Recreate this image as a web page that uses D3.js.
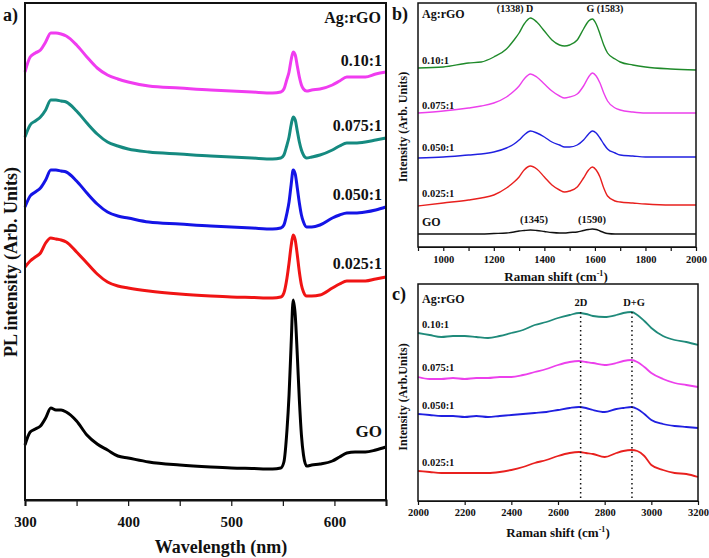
<!DOCTYPE html>
<html><head><meta charset="utf-8">
<script src="https://cdn.jsdelivr.net/npm/d3@7"></script>
<style>body{margin:0;background:#fff}svg{display:block}text{font-family:"Liberation Serif","Times New Roman",serif;font-weight:bold;fill:#111}</style>
</head><body><svg id="c" width="709" height="558"></svg>
<script>
// ---------- Panel a: PL spectra ----------
const wavelength = [300,305,310,315,320,325,330,335,340,350,360,370,380,390,400,420,450,480,500,520,540,548,551,554,556,558,560,562,564,566,568,570,573,578,586,598,605,612,620,630,640,650];
const pl_GO    = [55,68,71,74,82,92,90,90,88,79,65,56,50,44,42,38,35,33,32,31.5,31,32,38,70,105,155,200,185,145,100,65,45,34,35,36,39,43,47,48,48,50,53];
const pl_025   = [233,239,243,247,257,262,261,260,258,248,237,226,218,214,212,209,206,204,203,202.5,202,203,207,222,237,254,265,260,245,228,215,208,204,204,205,212,216,219,219,219,221,223];
const pl_050   = [293,304,308,312,320,330,330,329,328,319,307,296,288,284,282,278,276,274,273,272,271,272,275,287,298,315,330,326,312,297,285,278,273,273,275,282,285,287,287,288,290,293];
const pl_075   = [363,375,379,383,390,400,400,399,398,389,377,366,358,354,351,348,346,344,343,342,341,342,345,355,363,375,383,380,369,358,350,345,342,343,345,350,354,357,357,358,360,362];
const pl_010   = [428,443,447,450,458,467,467,466,464,455,443,432,425,421,418,414,412,410,409,408,407,408,411,421,428,440,448,445,434,423,415,411,409,410,411,415,419,423,423,423,426,428];
const plTicks  = [300,350,400,450,500,550,600,650];
const plTickLabels = [300,400,500,600];

// ---------- Panel b: Raman D/G ----------
const ramanB = [900,1000,1100,1150,1200,1250,1280,1300,1320,1345,1370,1400,1430,1460,1480,1500,1530,1555,1575,1590,1605,1620,1635,1650,1680,1700,1750,1800,1900,2000];
const rb_010 = [179,180,184,185,190,198,207,214,223,229,225,216,207,202,201,202,207,218,226,228,223,213,202,194,188,185,182,180,178,177];
const rb_075 = [134,136,139,141,144,150,156,161,168,173,170,163,156,151,149,150,153,161,170,174,171,164,154,146,139,137,135,134,134,134];
const rb_050 = [89,90,92,93,95,99,103,107,112,116,114,110,105,102,100,100,102,107,113,116,114,109,103,98,94,92,91,90,90,90];
const rb_025 = [41,44,47,49,52,59,65,70,77,81,78,70,62,57,55,56,60,69,77,80,77,70,59,51,46,45,44,43,42,42];
const rb_GO  = [13,13,13,13,13.5,14,15,16,16.5,17,16.5,15.5,14.5,14,14,14.5,15,16.5,17.5,18,17.5,16,14.5,13.5,13,13,13,13,13,13];
const bTicks = [900,1000,1100,1200,1300,1400,1500,1600,1700,1800,1900,2000];
const bTickLabels = [1000,1200,1400,1600,1800,2000];

// ---------- Panel c: Raman 2D / D+G ----------
const ramanC = [2000,2050,2100,2150,2200,2250,2300,2350,2400,2450,2500,2550,2600,2650,2690,2720,2750,2800,2850,2880,2915,2940,2970,3000,3050,3100,3150,3200];
const rc_010 = [168,166,164,165,165,164,163,165,168,171,176,179,183,186,188,187,185,184,186,188,189,186,180,173,165,161,159,156];
const rc_075 = [124,122,122,123,122,123,123,124,124,126,129,132,136,139,140,139,138,136,138,140,141,139,134,128,122,118,116,114];
const rc_050 = [87,86,85,85,84,85,84,85,86,87,88,89,91,93,94,93,91,89,92,93,94,92,87,81,77,75,74,73];
const rc_025 = [30,29,28,28,28,28,28,29,31,34,38,41,45,48,49,48,47,44,48,50,51,50,45,36,31,28,27,24];
const cTicks = [2000,2200,2400,2600,2800,3000,3200];
const peakLines = [2697,2917];

const svg = d3.select("#c");

function frame(g, x, y){
  const [x0,x1]=x.range(), [y1,y0]=y.range();
  g.append("rect").attr("x",x0).attr("y",y0).attr("width",x1-x0).attr("height",y1-y0)
    .attr("fill","none").attr("stroke","#111");
}
function drawLines(g, x, y, xs, series, width){
  const line = d3.line().x((d,i)=>x(xs[i])).y(d=>y(d)).curve(d3.curveMonotoneX);
  series.forEach(s=>{
    g.append("path").datum(s.v).attr("d",line).attr("fill","none")
      .attr("stroke",s.c).attr("stroke-width",width).attr("stroke-linejoin","round");
  });
}
function axisBottom(g, x, y0, ticks, labels, tickLen, fontSize, labelY){
  const ax = d3.axisBottom(x).tickValues(ticks).tickSize(tickLen).tickFormat(d=>labels.includes(d)?d:"");
  const ag = g.append("g").attr("transform",`translate(0,${y0})`).call(ax);
  ag.select(".domain").attr("stroke","#111");
  ag.selectAll(".tick line").attr("stroke","#111").attr("stroke-width",1.2);
  ag.selectAll(".tick text").attr("y",labelY).attr("dy",0).attr("font-size",fontSize)
    .attr("font-family","Liberation Serif").attr("font-weight","bold").attr("fill","#111");
}
function txt(g, x, y, s, size, anchor){
  return g.append("text").attr("x",x).attr("y",y).attr("font-size",size).attr("text-anchor",anchor||"start").text(s);
}

// Panel a
{
  const g = svg.append("g");
  const x = d3.scaleLinear().domain([300,650]).range([25,386]);
  const y = d3.scaleLinear().domain([0,497]).range([500,3]);
  drawLines(g,x,y,wavelength,[
    {v:pl_GO,c:"#000"},{v:pl_025,c:"#f01414"},{v:pl_050,c:"#1414e6"},
    {v:pl_075,c:"#158a80"},{v:pl_010,c:"#f03cf0"}],3);
  frame(g,x,y);
  g.select("rect").attr("stroke-width",2);
  axisBottom(g,x,500,plTicks,plTickLabels,6,15,27);
  g.select(".domain").attr("stroke-width",2);
  txt(g,3,21,"a)",18);
  txt(g,381,23,"Ag:rGO",16,"end");
  txt(g,382,66,"0.10:1",16,"end");
  txt(g,382,131,"0.075:1",16,"end");
  txt(g,382,200,"0.050:1",16,"end");
  txt(g,382,269,"0.025:1",16,"end");
  txt(g,382,437,"GO",17,"end");
  txt(g,221,553,"Wavelength (nm)",18,"middle");
  g.append("text").attr("transform","translate(17,262) rotate(-90)").attr("font-size",18)
    .attr("text-anchor","middle").text("PL intensity (Arb. Units)");
}

// Panel b
{
  const g = svg.append("g");
  const x = d3.scaleLinear().domain([900,2000]).range([418,696]);
  const y = d3.scaleLinear().domain([0,244]).range([247,3]);
  drawLines(g,x,y,ramanB,[
    {v:rb_GO,c:"#111"},{v:rb_025,c:"#e8201e"},{v:rb_050,c:"#2020e0"},
    {v:rb_075,c:"#ec40ec"},{v:rb_010,c:"#1f8a2a"}],1.4);
  frame(g,x,y);
  g.select("rect").attr("stroke-width",1.5);
  axisBottom(g,x,247,bTicks,bTickLabels,4,10.5,16);
  txt(g,392,20,"b)",18);
  txt(g,422,18,"Ag:rGO",12);
  txt(g,515,12,"(1338) D",10,"middle");
  txt(g,605,12,"G (1583)",10,"middle");
  txt(g,422,64,"0.10:1",10.5);
  txt(g,422,109,"0.075:1",10.5);
  txt(g,422,151,"0.050:1",10.5);
  txt(g,422,197,"0.025:1",10.5);
  txt(g,422,226,"GO",12);
  txt(g,534,223,"(1345)",10.5,"middle");
  txt(g,592,223,"(1590)",10.5,"middle");
  const t = txt(g,556,281,"Raman shift (cm",13,"middle");
  t.append("tspan").attr("font-size",8).attr("dy",-5).text("-1");
  t.append("tspan").attr("dy",5).text(")");
  g.append("text").attr("transform","translate(407,127) rotate(-90)").attr("font-size",12)
    .attr("text-anchor","middle").text("Intensity (Arb. Units)");
}

// Panel c
{
  const g = svg.append("g");
  const x = d3.scaleLinear().domain([2000,3200]).range([418,698]);
  const y = d3.scaleLinear().domain([0,217]).range([501,284]);
  drawLines(g,x,y,ramanC,[
    {v:rc_025,c:"#e8201e"},{v:rc_050,c:"#2020e0"},
    {v:rc_075,c:"#ec40ec"},{v:rc_010,c:"#1f8a7a"}],1.8);
  peakLines.forEach(p=>{
    g.append("line").attr("x1",x(p)).attr("x2",x(p)).attr("y1",312).attr("y2",501)
      .attr("stroke","#111").attr("stroke-width",1.5).attr("stroke-dasharray","1.5,3");
  });
  frame(g,x,y);
  g.select("rect").attr("stroke-width",1.5);
  axisBottom(g,x,501,cTicks,cTicks,4,10.5,15);
  txt(g,392,300,"c)",18);
  txt(g,422,303,"Ag:rGO",12);
  txt(g,422,328,"0.10:1",10.5);
  txt(g,422,371,"0.075:1",10.5);
  txt(g,422,409,"0.050:1",10.5);
  txt(g,422,466,"0.025:1",10.5);
  txt(g,581,306,"2D",10.5,"middle");
  txt(g,634,306,"D+G",10.5,"middle");
  const t = txt(g,558,537,"Raman shift (cm",13,"middle");
  t.append("tspan").attr("font-size",8).attr("dy",-5).text("-1");
  t.append("tspan").attr("dy",5).text(")");
  g.append("text").attr("transform","translate(407,397) rotate(-90)").attr("font-size",12)
    .attr("text-anchor","middle").text("Intensity (Arb.Units)");
}
</script></body></html>
